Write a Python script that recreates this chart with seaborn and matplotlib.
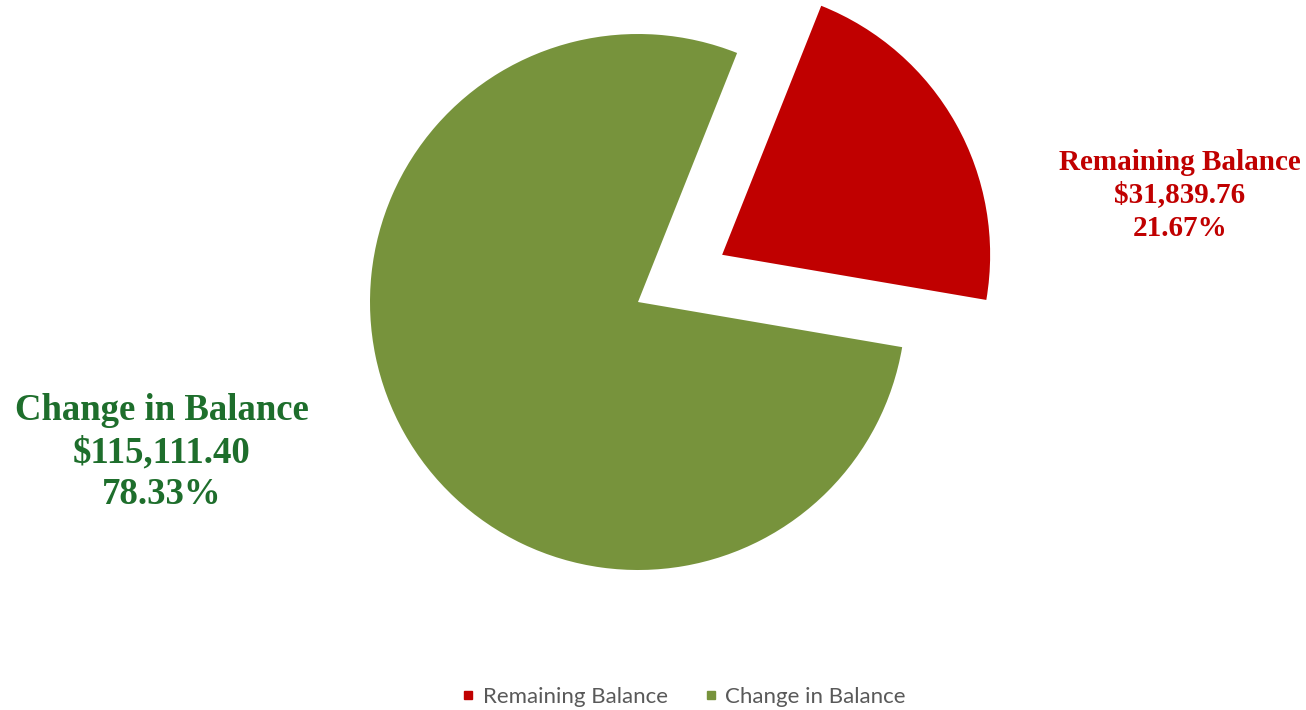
import matplotlib
matplotlib.use("Agg")
import matplotlib.pyplot as plt
from matplotlib.lines import Line2D
import seaborn as sns

# Loan balance split
categories = ["Remaining Balance", "Change in Balance"]
amounts = [31839.76, 115111.40]
wedge_colors = ["#C00000", "#77933C"]
label_colors = ["#C00000", "#1E6E2C"]

sns.set_theme(style="white")
plt.rcParams["font.family"] = ["Liberation Serif", "DejaVu Serif"]

W, H = 1306, 710
fig = plt.figure(figsize=(W / 100, H / 100), dpi=100)
ax = fig.add_axes([0, 0, 1, 1])
ax.set_xlim(0, W)
ax.set_ylim(0, H)
ax.set_aspect("equal")
ax.axis("off")

total = sum(amounts)
R = 268
ax.pie(
    amounts,
    colors=wedge_colors,
    startangle=68.3,
    counterclock=False,
    explode=[0.36 * R, 0.0],
    radius=R,
    center=(638, 408),
    wedgeprops=dict(linewidth=0),
    frame=False,
)
ax.set_xlim(0, W)
ax.set_ylim(0, H)

# Data labels: name, value and share of total
label_specs = [
    dict(x=1180, y=[548, 515, 482], size=21),
    dict(x=162, y=[299, 257, 215], size=26.5),
]
for name, amt, col, spec in zip(categories, amounts, label_colors, label_specs):
    lines = [name, f"${amt:,.2f}", f"{amt / total * 100:.2f}%"]
    for text, yy in zip(lines, spec["y"]):
        ax.text(spec["x"], yy, text, ha="center", va="center",
                fontsize=spec["size"], fontweight="bold", color=col)

handles = [Line2D([0], [0], marker="s", linestyle="none", markersize=6,
                  markerfacecolor=c, markeredgecolor=c) for c in wedge_colors]
leg = fig.legend(handles, categories, loc="center", bbox_to_anchor=(0.523, 1 - 697 / H),
                 ncol=2, frameon=False, handlelength=0.7, handletextpad=0.3,
                 columnspacing=1.6, prop={"family": "Lato", "size": 16})
for t in leg.get_texts():
    t.set_color("#595959")

fig.savefig("out.png", dpi=100)
